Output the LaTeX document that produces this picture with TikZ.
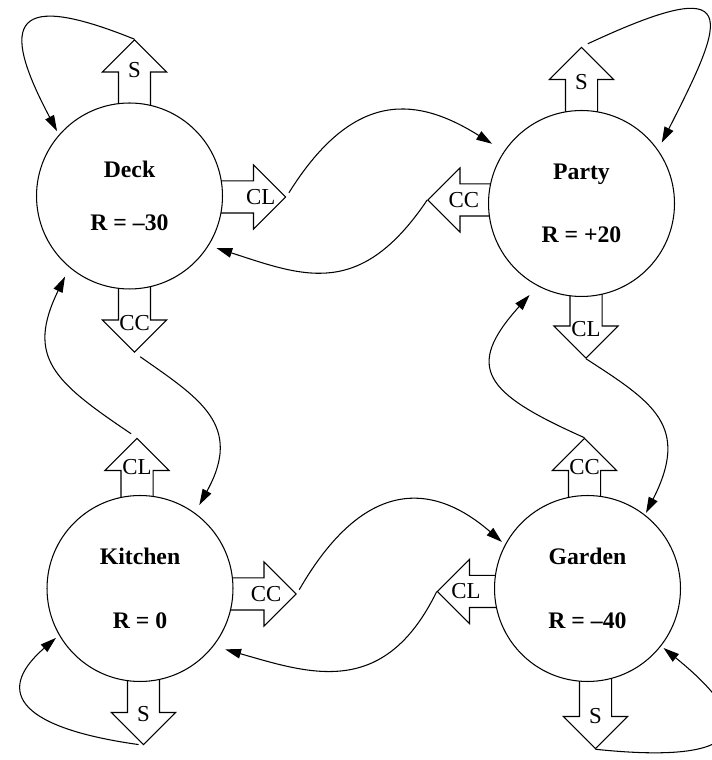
\documentclass[tikz,border=0pt]{standalone}
\usepackage{fontspec}
\setmainfont{Liberation Serif}
\usetikzlibrary{shapes.arrows, arrows.meta, calc, backgrounds}
\tikzset{
    state/.style={draw, circle, line width=0.6pt, fill=white, minimum size=3.72cm, inner sep=0pt, align=center, font=\fontsize{13.5}{36}\selectfont\bfseries},
    move/.style={draw, line width=0.6pt, fill=white, single arrow, single arrow head extend=0.32cm, minimum width=1.26cm, minimum height=1.44cm, inner sep=0.31cm, anchor=tail},
    act/.style={font=\fontsize{13}{15}\selectfont, inner sep=0pt},
    trans/.style={line width=0.6pt, -{Triangle[length=9pt, width=5.5pt]}}
}

\begin{document}
\begin{tikzpicture}[x=0.02cm, y=0.02cm]
    \useasboundingbox (0,0) rectangle (711,760);

    % states
    \node (deck) [state] at (129.5,564) {Deck\\[-6pt]R = \textendash30};
    \node (party) [state] at (581.5,556.5) {Party\\R = +20};
    \node (kitchen) [state] at (140,171.5) {Kitchen\\R = 0};
    \node (garden) [state] at (587.5,171.5) {Garden\\R = \textendash40};

    % actions
    \begin{scope}[on background layer]
        \node (deckS) [move, shape border rotate=90] at ([xshift=0.1cm, yshift=-0.2cm]deck.north) {};
        \node (deckCL) [move, shape border rotate=0] at ([xshift=-0.2cm, yshift=-0.02cm]deck.east) {};
        \node (deckCC) [move, shape border rotate=270] at ([xshift=0.1cm, yshift=0.2cm]deck.south) {};
        \node (partyS) [move, shape border rotate=90] at ([yshift=-0.2cm]party.north) {};
        \node (partyCC) [move, shape border rotate=180] at ([xshift=0.25cm, yshift=0.07cm]party.west) {};
        \node (partyCL) [move, shape border rotate=270] at ([xshift=0.09cm, yshift=0.23cm]party.south) {};
        \node (kitchenCL) [move, shape border rotate=90] at ([xshift=-0.06cm, yshift=-0.32cm]kitchen.north) {};
        \node (kitchenCC) [move, shape border rotate=0] at ([xshift=-0.2cm, yshift=-0.11cm]kitchen.east) {};
        \node (kitchenS) [move, shape border rotate=270] at ([xshift=0.07cm, yshift=0.2cm]kitchen.south) {};
        \node (gardenCC) [move, shape border rotate=90] at ([xshift=-0.06cm, yshift=-0.32cm]garden.north) {};
        \node (gardenCL) [move, shape border rotate=180] at ([xshift=0.32cm, yshift=-0.06cm]garden.west) {};
        \node (gardenS) [move, shape border rotate=270] at ([xshift=0.16cm, yshift=0.12cm]garden.south) {};
    \end{scope}

    \node (deckSl) [act] at ($(deckS.tail)!0.58!(deckS.tip)$) {S};
    \node (deckCLl) [act] at ($(deckCL.tail)!0.65!(deckCL.tip)$) {CL};
    \node (deckCCl) [act] at ($(deckCC.tail)!0.6!(deckCC.tip)$) {CC};
    \node (partySl) [act] at ($(partyS.tail)!0.52!(partyS.tip)$) {S};
    \node (partyCCl) [act] at ($(partyCC.tail)!0.5!(partyCC.tip)$) {CC};
    \node (partyCLl) [act] at ($(partyCL.tail)!0.6!(partyCL.tip)$) {CL};
    \node (kitchenCLl) [act] at ($(kitchenCL.tail)!0.6!(kitchenCL.tip)$) {CL};
    \node (kitchenCCl) [act] at ($(kitchenCC.tail)!0.58!(kitchenCC.tip)$) {CC};
    \node (kitchenSl) [act] at ($(kitchenS.tail)!0.58!(kitchenS.tip)$) {S};
    \node (gardenCCl) [act] at ($(gardenCC.tail)!0.6!(gardenCC.tip)$) {CC};
    \node (gardenCLl) [act] at ($(gardenCL.tail)!0.6!(gardenCL.tip)$) {CL};
    \node (gardenSl) [act] at ($(gardenS.tail)!0.55!(gardenS.tip)$) {S};

    % transitions
    \draw [trans, shorten >=0.08cm] (deckS.tip) .. controls +(158:130) and +(118:130) .. (deck.139);
    \draw [trans, shorten <=0.1cm, shorten >=0.28cm] (deckCL.tip) .. controls +(58:130) and +(148:100) .. (party.146);
    \draw [trans, shorten >=0.16cm] (partyCC.tip) .. controls +(-124:120) and +(-18:100) .. (deck.-32);
    \draw [trans, shorten <=0.14cm, shorten >=0.18cm] (deckCC.tip) .. controls +(-35:80) and +(61:100) .. (kitchen.54);
    \draw [trans, shorten <=0.14cm, shorten >=0.2cm] (kitchenCL.tip) .. controls +(146:100) and +(-116:100) .. (deck.-130);
    \draw [trans, shorten >=0.04cm] (partyCL.tip) .. controls +(-33:80) and +(63:100) .. (garden.52);
    \draw [trans, shorten >=0.24cm] (gardenCC.tip) .. controls +(156:110) and +(-132:110) .. (party.-118);
    \draw [trans, shorten <=0.1cm, shorten >=0.08cm] (kitchenCC.tip) .. controls +(60:130) and +(139:100) .. (garden.152);
    \draw [trans, shorten >=0.24cm] (gardenCL.tip) .. controls +(-116:120) and +(-16:100) .. (kitchen.-38);
    \draw [trans, shorten <=0.1cm, shorten >=0.08cm] (kitchenS.tip) .. controls +(172:120) and +(-139:90) .. (kitchen.-150);
    \draw [trans, shorten >=0.06cm] (gardenS.tip) .. controls +(-6:150) and +(-39:130) .. (garden.-38);
    \draw [trans, shorten <=0.14cm, shorten >=0.16cm] (partyS.tip) .. controls +(25:180) and +(63:150) .. (party.35);
\end{tikzpicture}
\end{document}
